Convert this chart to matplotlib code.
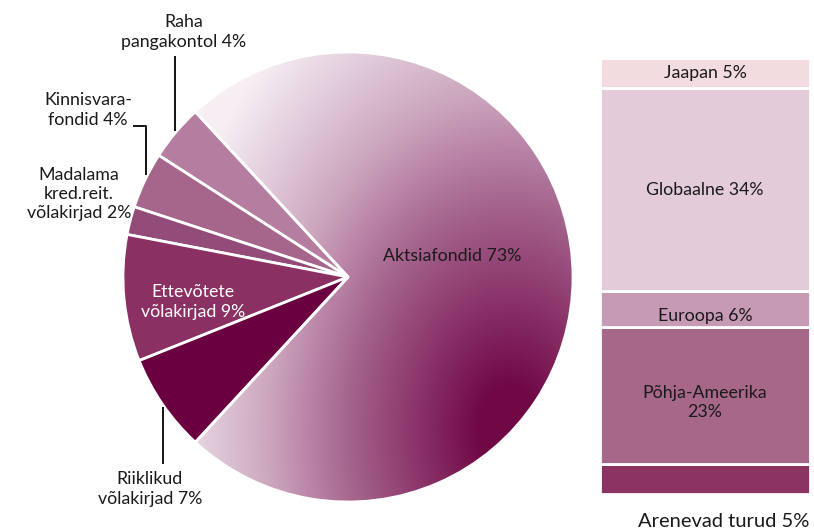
"""Pension fund asset allocation: pie of asset classes plus a bar splitting the equity share by region."""

import matplotlib

matplotlib.use("Agg")

import matplotlib.pyplot as plt
import numpy as np
from matplotlib.colors import LinearSegmentedColormap

W, H = 814, 531

# Asset classes, in the order they are drawn (counter-clockwise from the top-left).
classes = ["Raha\npangakontol", "Kinnisvara-\nfondid", "Madalama\nkred.reit.\nvõlakirjad",
           "Ettevõtete\nvõlakirjad", "Riiklikud\nvõlakirjad", "Aktsiafondid"]
class_pct = [4, 4, 2, 9, 7, 73]
class_colors = ["#b57d9f", "#a6668c", "#934b79", "#8b3062", "#6b0040", "none"]

# Equity split by region, from the bottom of the bar to the top.
regions = ["Arenevad turud", "Põhja-Ameerika", "Euroopa", "Globaalne", "Jaapan"]
region_pct = [5, 23, 6, 34, 5]
region_colors = ["#8b3464", "#a66789", "#c69ab4", "#e3cbd9", "#f2dcdf"]

plt.rcParams["font.family"] = ["Lato", "DejaVu Sans"]
TEXT = "#1a1a1a"
FS = 12.8

fig = plt.figure(figsize=(W / 100, H / 100), dpi=100)
fig.patch.set_facecolor("white")

# ---- pie, drawn in a pixel-sized axes (y up) ----
ax = fig.add_axes([0, 0, 1, 1])
cx, cy, r = 348, H - 277, 225
left_share = sum(class_pct[:-1]) / sum(class_pct) * 360
wedges, _ = ax.pie(class_pct, colors=class_colors, startangle=180 - left_share / 2,
                   counterclock=True, radius=r, center=(cx, cy),
                   wedgeprops=dict(edgecolor="white", linewidth=2))
ax.set_xlim(0, W)
ax.set_ylim(0, H)
ax.set_aspect("equal")
ax.axis("off")

# shaded fill for the equity wedge: dark near the lower right rim, fading outwards
gx = np.linspace(cx - r, cx + r, 460)
gy = np.linspace(cy - r, cy + r, 460)
X, Y = np.meshgrid(gx, gy)
Ys = H - Y
d = np.sqrt((X - 510) ** 2 + ((Ys - 430) / 1.4) ** 2)
t = np.clip((d - 30) / 330, 0, 1)
shade = LinearSegmentedColormap.from_list("shade", [
    (0.0, "#700845"), (0.22, "#8e3a6e"), (0.4, "#a4648d"), (0.52, "#b983a6"),
    (0.64, "#cba5bd"), (0.78, "#dcc3d4"), (1.0, "#f6eef3")])
img = ax.imshow(t, cmap=shade, vmin=0, vmax=1, origin="lower",
                extent=(cx - r, cx + r, cy - r, cy + r), zorder=0.5,
                interpolation="bilinear")
img.set_clip_path(wedges[-1])
ax.set_xlim(0, W)
ax.set_ylim(0, H)


def px(x, y):
    return x, H - y


labels = [f"{n} {p}%" for n, p in zip(classes, class_pct)]
common = dict(ha="center", va="center", fontsize=FS, linespacing=1.25)
ax.text(*px(184, 32), labels[0], color=TEXT, **common)
ax.text(*px(88, 110), labels[1], color=TEXT, **common)
ax.text(*px(79, 194), labels[2], color=TEXT, **common)
ax.text(*px(193, 302), labels[3], color="white", **common)
ax.text(*px(150, 489), labels[4], color=TEXT, **common)
ax.text(*px(452, 256), labels[5], color=TEXT, **common)

# leader lines
lead = dict(color="black", lw=1.3, solid_capstyle="butt")
ax.plot(*zip(px(175, 56), px(175, 131)), **lead)
ax.plot(*zip(px(133, 126), px(146, 126), px(146, 175)), **lead)
ax.plot(*zip(px(163, 407), px(163, 464)), **lead)

# ---- stacked bar for the equity split ----
bx = fig.add_axes([600 / W, (H - 494.3) / H, 210 / W, 436 / H])
bottoms = np.concatenate([[0], np.cumsum(region_pct)[:-1]])
bx.bar(0, region_pct, bottom=bottoms, width=1.0, color=region_colors,
       edgecolor="white", linewidth=2)
bx.set_xlim(-0.5, 0.5)
bx.set_ylim(0, sum(region_pct))
bx.axis("off")

for name, p, b in zip(regions, region_pct, bottoms):
    mid = b + p / 2
    if name == "Arenevad turud":
        bx.text(0.09, -4.5, f"{name} {p}%", ha="center", va="center",
                fontsize=14.5, color=TEXT, clip_on=False)
    elif name == "Põhja-Ameerika":
        bx.text(0, mid - 1.1, f"{name}\n{p}%", ha="center", va="center",
                fontsize=FS, color=TEXT, linespacing=1.25)
    elif name == "Euroopa":
        bx.text(0, mid - 1.2, f"{name} {p}%", ha="center", va="center",
                fontsize=FS, color=TEXT)
    else:
        bx.text(0, mid, f"{name} {p}%", ha="center", va="center",
                fontsize=FS, color=TEXT)

fig.savefig("out.png", dpi=100, facecolor="white")
